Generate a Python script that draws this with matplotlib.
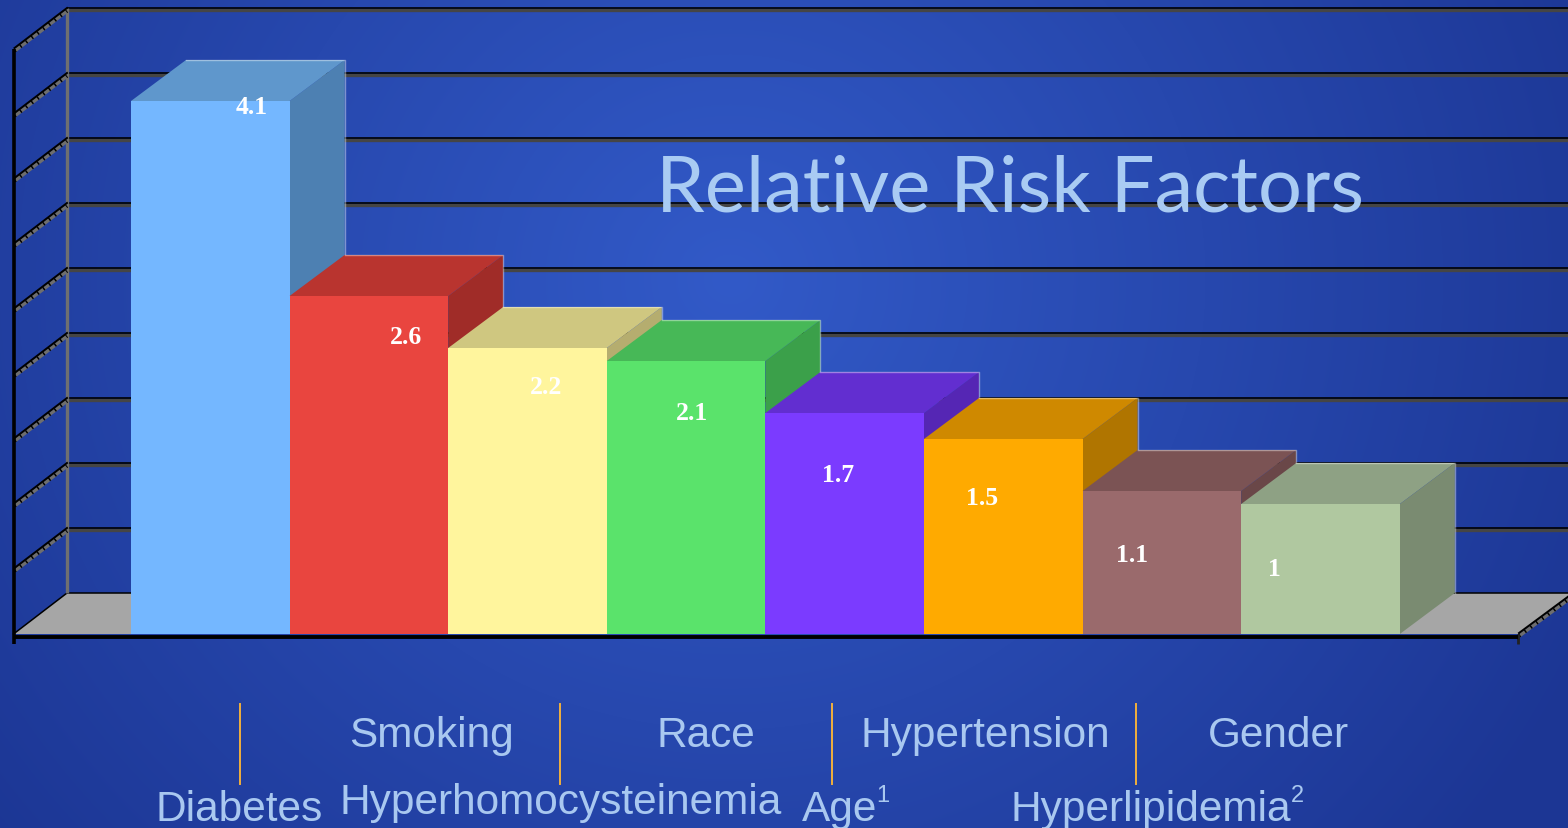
import matplotlib
matplotlib.use("Agg")
import matplotlib.pyplot as plt
import numpy as np
from matplotlib.patches import Polygon

# Relative risk per factor, in plotting order
factors = ['Diabetes', 'Smoking', 'Hyperhomocysteinemia', 'Race', 'Age', 'Hypertension', 'Hyperlipidemia', 'Gender']
risk = [4.1, 2.6, 2.2, 2.1, 1.7, 1.5, 1.1, 1]
value_labels = ['4.1', '2.6', '2.2', '2.1', '1.7', '1.5', '1.1', '1']
grid_values = [0.5, 1, 1.5, 2, 2.5, 3, 3.5, 4, 4.5]

front_colors = ['#74B7FF', '#E9453F', '#FFF59D', '#5AE36B', '#7B3BFF', '#FFAA00', '#9A6A6C', '#B0C8A0']
top_colors = ['#5F97CC', '#B9342F', '#CFC780', '#47B857', '#622ED0', '#CF8900', '#7B5354', '#8EA184']
side_colors = ['#4D80B2', '#A02C28', '#B5AD6F', '#3BA04A', '#5526B4', '#B07500', '#6A4748', '#7A8B71']

W, H = 1568, 829
BAR_PX = 158.6
UNIT_PX = 130.0
X0_PX = 210.3   # centre of first bar
Y0_PX = 635.0   # baseline of the front plane
DEPTH_X = 55 / BAR_PX
DEPTH_Y = 41 / UNIT_PX


def px(x, y):
    # pixel position -> data position
    return (x - X0_PX) / BAR_PX, (Y0_PX - y) / UNIT_PX


fig = plt.figure(figsize=(W / 100, H / 100), dpi=100)
ax = fig.add_axes([0, 0, 1, 1])
ax.set_xlim(px(0, 0)[0], px(W, 0)[0])
ax.set_ylim(px(0, H)[1], px(0, 0)[1])
ax.axis('off')

# Blue slide background, lighter towards the upper middle
yy, xx = np.mgrid[0:H, 0:W]
d = np.sqrt(((xx - 730) / 950.0) ** 2 + ((yy - 280) / 900.0) ** 2)
d = np.clip(d, 0, 1)[..., None]
inner = np.array([0x32, 0x5A, 0xC8]) / 255
outer = np.array([0x1C, 0x36, 0x94]) / 255
ax.imshow(inner * (1 - d) + outer * d, extent=[*ax.get_xlim(), *ax.get_ylim()],
          origin='upper', aspect='auto', zorder=0, interpolation='bilinear')
ax.set_xlim(px(0, 0)[0], px(W, 0)[0])
ax.set_ylim(px(0, H)[1], px(0, 0)[1])

x_left = px(13.5, 0)[0]
x_right = px(1518, 0)[0]
x_far = x_right + DEPTH_X
back_left = px(67, 0)[0]

# Floor
ax.add_patch(Polygon([(x_left, 0), (back_left, DEPTH_Y), (x_far, DEPTH_Y), (x_right, 0)],
                     closed=True, facecolor='#A6A6A6', edgecolor='none', zorder=1))
ax.plot([back_left, x_far], [DEPTH_Y, DEPTH_Y], color='black', lw=1.1, zorder=2)
ax.plot([x_left, back_left], [0, DEPTH_Y], color='black', lw=1.1, zorder=2)

# Back wall gridlines, black with a dark grey shadow below
shadow = 2.4 / UNIT_PX
for v in grid_values:
    ax.plot([back_left, x_far], [v + DEPTH_Y - shadow, v + DEPTH_Y - shadow], color='#454545', lw=2.4,
            solid_capstyle='butt', zorder=2)
    ax.plot([back_left, x_far], [v + DEPTH_Y, v + DEPTH_Y], color='black', lw=1.2,
            solid_capstyle='butt', zorder=3)

# Back wall corner post
ax.plot([back_left, back_left], [DEPTH_Y, grid_values[-1] + DEPTH_Y], color='#707070', lw=2.4,
        solid_capstyle='butt', zorder=3)

# Hatched wall ticks on both sides
off = 3 / UNIT_PX
for v in grid_values:
    xs = [x_left + 1 / BAR_PX, back_left]
    ys = [v + 1.0 / UNIT_PX, v + DEPTH_Y]
    ax.plot(xs, [y - off for y in ys], color='#6E6E6E', lw=2.6, solid_capstyle='butt', zorder=3)
    ax.plot(xs, [y - off for y in ys], color='black', lw=2.6, dashes=(0.4, 1.6), zorder=3)
    ax.plot(xs, ys, color='black', lw=1.4, zorder=3)
xs = [x_right + 1 / BAR_PX, x_far]
ys = [1.0 / UNIT_PX, DEPTH_Y]
ax.plot(xs, [y - off for y in ys], color='#6E6E6E', lw=2.6, solid_capstyle='butt', zorder=3)
ax.plot(xs, [y - off for y in ys], color='black', lw=2.6, dashes=(0.4, 1.6), zorder=3)
ax.plot(xs, ys, color='black', lw=1.4, zorder=3)

# Front left axis and baseline
ax.plot([x_left, x_left], [px(0, 645)[1], grid_values[-1]], color='black', lw=2.6,
        solid_capstyle='butt', zorder=4)
ax.plot([x_right, x_right], [px(0, 645)[1], 0], color='#222222', lw=2.0,
        solid_capstyle='butt', zorder=4)

# Bars: the side and top faces are offset copies of the front face
positions = np.arange(len(risk))
for i, v in enumerate(risk):
    z = 10 + i
    lft, rgt = i - 0.5, i + 0.5
    ax.add_patch(Polygon([(rgt, 0), (rgt + DEPTH_X, DEPTH_Y), (rgt + DEPTH_X, v + DEPTH_Y), (rgt, v)],
                         closed=True, facecolor=side_colors[i], edgecolor='none', zorder=z))
    ax.add_patch(Polygon([(lft, v), (lft + DEPTH_X, v + DEPTH_Y), (rgt + DEPTH_X, v + DEPTH_Y), (rgt, v)],
                         closed=True, facecolor=top_colors[i], edgecolor='none', zorder=z))
    # thin highlight on the rear edges
    ax.plot([lft + DEPTH_X, rgt + DEPTH_X, rgt + DEPTH_X], [v + DEPTH_Y, v + DEPTH_Y, DEPTH_Y],
            color='white', alpha=0.4, lw=1.0, zorder=z)
    ax.bar(positions[i], v, width=1.0, color=front_colors[i], zorder=z + 0.5)

# Baseline sits over the bars
ax.plot([x_left, x_right], [-2.5 / UNIT_PX, -2.5 / UNIT_PX], color='black', lw=2.8,
        solid_capstyle='butt', zorder=30)

# Value labels
label_px = [(252, 108), (406, 338), (546, 388), (692, 414), (838, 476), (982, 499), (1132, 556), (1274, 570)]
for (lx, ly), txt in zip(label_px, value_labels):
    ax.text(*px(lx, ly), txt, color='white', fontsize=18.5, fontweight='bold', family='Liberation Serif',
            ha='center', va='center', zorder=40)

# Title
ax.text(*px(1010, 212), 'Relative Risk Factors', color='#A9CBF3', fontsize=56, family='Lato',
        fontweight='normal', ha='center', va='baseline', zorder=40)

# Category names in two staggered rows, with dividers between them
name_color = '#A9C8F0'
name_px = {
    'Diabetes': (239, 821), 'Smoking': (431, 747), 'Hyperhomocysteinemia': (561, 814), 'Race': (706, 747),
    'Age': (840, 821), 'Hypertension': (985, 747), 'Hyperlipidemia': (1150.5, 821), 'Gender': (1278, 747),
}
for name in factors:
    ax.text(*px(*name_px[name]), name, color=name_color, fontsize=30.5, family='Liberation Sans',
            ha='center', va='baseline', zorder=40)
ax.text(*px(876, 802), '1', color=name_color, fontsize=17, family='Liberation Sans', ha='left', va='baseline', zorder=40)
ax.text(*px(1291, 802), '2', color=name_color, fontsize=17, family='Liberation Sans', ha='left', va='baseline', zorder=40)

for sep_x in (240, 560, 832, 1136):
    x_sep = px(sep_x, 0)[0]
    ax.plot([x_sep, x_sep], [px(0, 785)[1], px(0, 705)[1]], color='#F2B03C', lw=1.4, zorder=20)

fig.savefig('out.png', dpi=100)
